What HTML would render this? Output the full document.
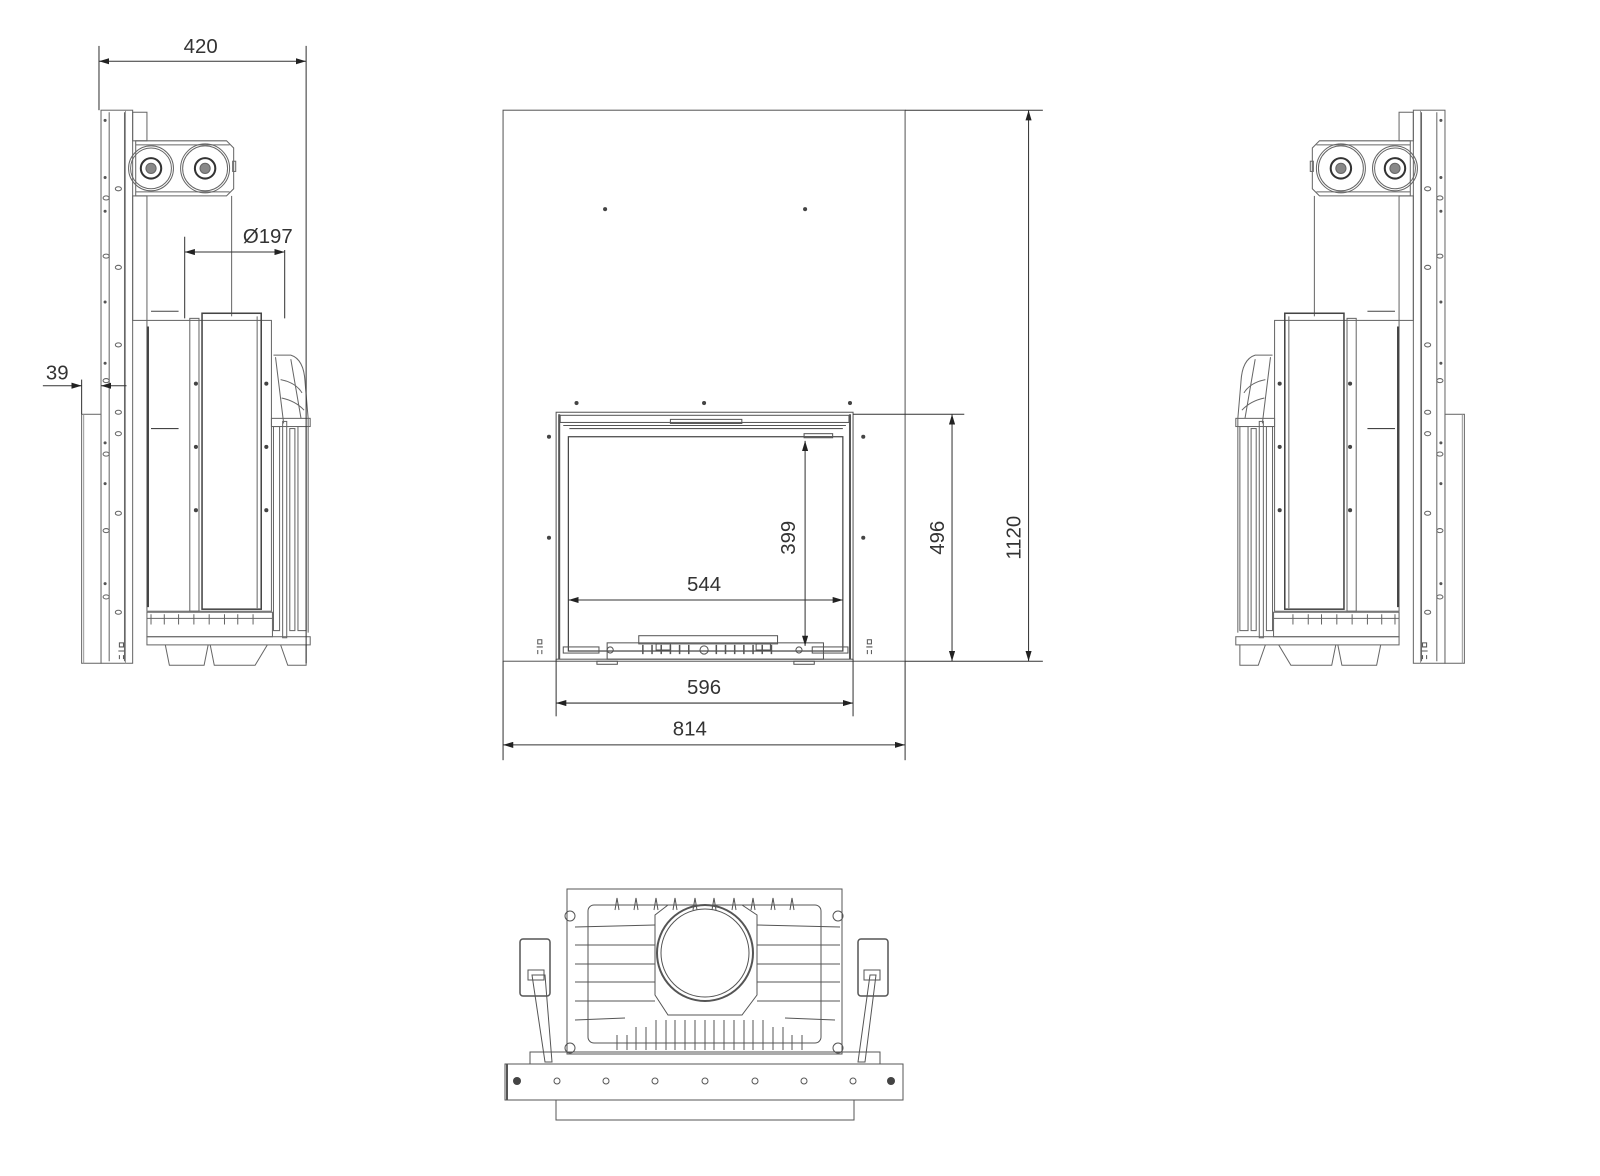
<!DOCTYPE html>
<html><head><meta charset="utf-8"><style>
html,body{margin:0;padding:0;background:#fff;}
svg{display:block}
text{font-family:"Liberation Sans",sans-serif;font-size:20px;fill:#333}
</style></head><body>
<svg width="1600" height="1176" viewBox="0 0 1600 1176" xmlns="http://www.w3.org/2000/svg">
<defs>
<marker id="a" viewBox="0 0 10 6" refX="10" refY="3" markerWidth="10" markerHeight="6" orient="auto-start-reverse" markerUnits="userSpaceOnUse"><path d="M0,0 L10,3 L0,6 z" fill="#222"/></marker>
<g id="side" fill="none" stroke="#666" stroke-width="1">
  <rect x="99" y="108" width="31" height="542"/>
  <line x1="107" y1="110" x2="107" y2="648"/>
  <line x1="122" y1="110" x2="122" y2="648"/>
  <line x1="123" y1="108" x2="123" y2="650" stroke="#999"/>
  <rect x="80" y="406" width="19" height="244"/>
  <line x1="82" y1="406" x2="82" y2="650" stroke="#999"/>
  <g fill="#fff" stroke="#666">
    <ellipse cx="116" cy="185" rx="3" ry="2"/><ellipse cx="116" cy="262" rx="3" ry="2"/>
    <ellipse cx="116" cy="338" rx="3" ry="2"/>
    <ellipse cx="116" cy="404" rx="3" ry="2"/><ellipse cx="116" cy="425" rx="3" ry="2"/>
    <ellipse cx="116" cy="503" rx="3" ry="2"/><ellipse cx="116" cy="600" rx="3" ry="2"/>
    <ellipse cx="104" cy="194" rx="3" ry="2"/><ellipse cx="104" cy="251" rx="3" ry="2"/>
    <ellipse cx="104" cy="373" rx="3" ry="2"/><ellipse cx="104" cy="445" rx="3" ry="2"/>
    <ellipse cx="104" cy="520" rx="3" ry="2"/><ellipse cx="104" cy="585" rx="3" ry="2"/>
  </g>
  <g fill="#555" stroke="none">
    <circle cx="103" cy="118" r="1.5"/><circle cx="103" cy="174" r="1.5"/><circle cx="103" cy="207" r="1.5"/>
    <circle cx="103" cy="296" r="1.5"/><circle cx="103" cy="356" r="1.5"/><circle cx="103" cy="434" r="1.5"/>
    <circle cx="103" cy="474" r="1.5"/><circle cx="103" cy="572" r="1.5"/>
  </g>
  <rect x="130" y="110" width="14" height="28"/>
  <path d="M133,138 H222 L229,145 V185 L222,192 H133 Z"/>
  <line x1="133" y1="142" x2="225" y2="142"/><line x1="133" y1="188" x2="225" y2="188"/>
  <circle cx="148" cy="165" r="22"/><circle cx="148" cy="165" r="20"/>
  <circle cx="148" cy="165" r="10" stroke="#333" stroke-width="2"/><circle cx="148" cy="165" r="5" fill="#888"/>
  <circle cx="201" cy="165" r="24"/><circle cx="201" cy="165" r="22"/>
  <circle cx="201" cy="165" r="10" stroke="#333" stroke-width="2"/><circle cx="201" cy="165" r="5" fill="#888"/>
  <rect x="228" y="158" width="3" height="10"/>
  <rect x="130" y="192" width="14" height="122"/>
  <line x1="227" y1="192" x2="227" y2="310"/>
  <rect x="144" y="314" width="122" height="285"/>
  <rect x="186" y="312" width="9" height="287"/>
  <rect x="198" y="307" width="58" height="290" stroke="#444" stroke-width="1.5"/>
  <line x1="252" y1="310" x2="252" y2="596"/>
  <line x1="148" y1="305" x2="175" y2="305" stroke="#444"/>
  <line x1="148" y1="420" x2="175" y2="420" stroke="#444"/>
  <line x1="145" y1="320" x2="145" y2="595" stroke="#444" stroke-width="2"/>
  <g fill="#444" stroke="none">
    <circle cx="192" cy="376" r="2"/><circle cx="192" cy="438" r="2"/><circle cx="192" cy="500" r="2"/>
    <circle cx="261" cy="376" r="2"/><circle cx="261" cy="438" r="2"/><circle cx="261" cy="500" r="2"/>
  </g>
  <path d="M268,348 H285 Q298,352 299,375 L302,410 V620"/>
  <path d="M270,350 L278,415 M285,352 L295,410 M275,372 Q290,375 296,385 M276,390 Q290,393 298,402"/>
  <rect x="266" y="410" width="38" height="8"/>
  <rect x="268" y="418" width="6" height="200"/><rect x="277" y="413" width="4" height="212"/>
  <rect x="284" y="420" width="5" height="198"/><rect x="292" y="418" width="8" height="200"/>
  <g stroke="#666">
    <rect x="144" y="600" width="123" height="24"/>
    <line x1="144" y1="606" x2="267" y2="606"/>
    <path d="M148,602 v10 M161,602 v10 M175,602 v10 M190,602 v10 M205,602 v10 M220,602 v10 M233,602 v10 M248,602 v10"/>
    <rect x="144" y="624" width="160" height="8"/>
    <path d="M162,632 L166,652 H200 L204,632 M206,632 L210,652 H250 L262,632"/>
    <path d="M275,632 L282,652 H300 V632"/>
  </g>
  <path d="M117,630 h4 v4 h-4 z M116,638 h6 M117,642 v4 M121,642 v4" stroke="#555"/>
</g>
</defs>

<g transform="scale(1.0204)">
<use href="#side"/>
</g>
<use href="#side" transform="translate(1546,0) scale(-1.0204,1.0204)"/>

<g transform="scale(1.0204)">
<g stroke="#333" stroke-width="1" fill="none">
  <line x1="97" y1="45" x2="97" y2="108"/>
  <line x1="300" y1="45" x2="300" y2="650"/>
  <line x1="97" y1="60" x2="300" y2="60" marker-start="url(#a)" marker-end="url(#a)"/>
  <line x1="181" y1="232" x2="181" y2="312"/>
  <line x1="279" y1="245" x2="279" y2="312"/>
  <line x1="181" y1="247" x2="279" y2="247" marker-start="url(#a)" marker-end="url(#a)"/>
  <line x1="80" y1="372" x2="80" y2="406"/>
  <line x1="42" y1="378" x2="80" y2="378" marker-end="url(#a)"/>
  <line x1="124" y1="378" x2="99" y2="378" marker-end="url(#a)"/>
</g>
<text x="180" y="52">420</text>
<text x="238" y="238">Ø197</text>
<text x="45" y="372">39</text>

<g stroke="#555" stroke-width="1" fill="none">
  <rect x="493" y="108" width="394" height="540"/>
  <rect x="545" y="404" width="291" height="242"/>
  <rect x="549" y="407" width="283" height="7"/>
  <line x1="552" y1="417" x2="829" y2="417"/>
  <line x1="558" y1="420" x2="826" y2="420"/>
  <rect x="557" y="428" width="269" height="210" stroke="#444" stroke-width="1.2"/>
  <line x1="548" y1="406" x2="548" y2="646" stroke-width="2"/>
  <line x1="833" y1="406" x2="833" y2="646" stroke-width="2"/>
  <rect x="657" y="411" width="70" height="4"/>
  <rect x="788" y="425" width="28" height="4"/>
  <rect x="595" y="630" width="212" height="16"/>
  <rect x="643" y="631" width="14" height="6"/><rect x="741" y="631" width="14" height="6"/>
  <rect x="626" y="623" width="136" height="8"/>
  <path d="M630,632 v9 M639,632 v9 M648,632 v9 M657,632 v9 M666,632 v9 M675,632 v9 M702,632 v9 M711,632 v9 M720,632 v9 M729,632 v9 M738,632 v9 M747,632 v9 M756,632 v9" stroke-width="1.5"/>
  <circle cx="690" cy="637" r="4"/>
  <circle cx="598" cy="637" r="3"/><circle cx="783" cy="637" r="3"/>
  <rect x="552" y="634" width="35" height="6"/><rect x="796" y="634" width="35" height="6"/>
  <rect x="585" y="648" width="20" height="3"/><rect x="778" y="648" width="20" height="3"/>
  <path d="M527,627 h4 v4 h-4 z M526,634 h6 M527,637 v4 M531,637 v4"/>
  <path d="M850,627 h4 v4 h-4 z M849,634 h6 M850,637 v4 M854,637 v4"/>
</g>
<g fill="#444">
  <circle cx="593" cy="205" r="2"/><circle cx="789" cy="205" r="2"/>
  <circle cx="565" cy="395" r="2"/><circle cx="690" cy="395" r="2"/><circle cx="833" cy="395" r="2"/>
  <circle cx="538" cy="428" r="2"/><circle cx="846" cy="428" r="2"/>
  <circle cx="538" cy="527" r="2"/><circle cx="846" cy="527" r="2"/>
</g>
<g stroke="#333" stroke-width="1" fill="none">
  <line x1="887" y1="108" x2="1022" y2="108"/>
  <line x1="887" y1="648" x2="1022" y2="648"/>
  <line x1="1008" y1="108" x2="1008" y2="648" marker-start="url(#a)" marker-end="url(#a)"/>
  <line x1="836" y1="406" x2="945" y2="406"/>
  <line x1="933" y1="406" x2="933" y2="648" marker-start="url(#a)" marker-end="url(#a)"/>
  <line x1="789" y1="432" x2="789" y2="633" marker-start="url(#a)" marker-end="url(#a)"/>
  <line x1="557" y1="588" x2="826" y2="588" marker-start="url(#a)" marker-end="url(#a)"/>
  <line x1="545" y1="646" x2="545" y2="702"/>
  <line x1="836" y1="646" x2="836" y2="702"/>
  <line x1="545" y1="689" x2="836" y2="689" marker-start="url(#a)" marker-end="url(#a)"/>
  <line x1="493" y1="648" x2="493" y2="745"/>
  <line x1="887" y1="648" x2="887" y2="745"/>
  <line x1="493" y1="730" x2="887" y2="730" marker-start="url(#a)" marker-end="url(#a)"/>
</g>
<text x="690" y="579" text-anchor="middle">544</text>
<text x="690" y="680" text-anchor="middle">596</text>
<text x="676" y="721" text-anchor="middle">814</text>
<text transform="translate(779,527) rotate(-90)" text-anchor="middle">399</text>
<text transform="translate(925,527) rotate(-90)" text-anchor="middle">496</text>
<text transform="translate(1000,527) rotate(-90)" text-anchor="middle">1120</text>
</g>

<g stroke="#555" stroke-width="1" fill="none">
  <rect x="567" y="889" width="275" height="165"/>
  <rect x="588" y="905" width="233" height="138" rx="6"/>
  <circle cx="705" cy="953" r="48" stroke-width="2"/>
  <circle cx="705" cy="953" r="44"/>
  <path d="M655,915 L668,905 H742 L757,915 V995 L742,1015 H668 L655,995 Z"/>
  <path d="M615,910 l2,-12 l2,12 M634,910 l2,-12 l2,12 M654,910 l2,-12 l2,12 M673,910 l2,-12 l2,12 M693,910 l2,-12 l2,12 M712,910 l2,-12 l2,12 M732,910 l2,-12 l2,12 M751,910 l2,-12 l2,12 M771,910 l2,-12 l2,12 M790,910 l2,-12 l2,12"/>
  <path d="M575,927 L655,925 M575,945 L655,945 M575,964 L655,964 M575,982 L655,982 M575,1001 L655,1001 M575,1020 L625,1018"/>
  <path d="M757,925 L840,927 M757,945 L840,945 M757,964 L840,964 M757,982 L840,982 M757,1001 L840,1001 M785,1018 L835,1020"/>
  <path d="M617,1050 V1035 M636,1050 V1027 M656,1050 V1020 M675,1050 V1020 M695,1050 V1020 M714,1050 V1020 M734,1050 V1020 M753,1050 V1020 M773,1050 V1027 M792,1050 V1035"/>
  <path d="M627,1050 V1035 M646,1050 V1027 M666,1050 V1020 M685,1050 V1020 M705,1050 V1020 M724,1050 V1020 M744,1050 V1020 M763,1050 V1020 M783,1050 V1027 M802,1050 V1035"/>
  <circle cx="570" cy="916" r="5"/><circle cx="838" cy="916" r="5"/>
  <circle cx="570" cy="1048" r="5"/><circle cx="838" cy="1048" r="5"/>
  <rect x="520" y="939" width="30" height="57" rx="3" stroke-width="1.5"/>
  <rect x="858" y="939" width="30" height="57" rx="3" stroke-width="1.5"/>
  <path d="M532,975 L545,1062 L552,1062 L545,975 Z"/>
  <path d="M870,975 L858,1062 L865,1062 L876,975 Z"/>
  <rect x="528" y="970" width="16" height="10"/><rect x="864" y="970" width="16" height="10"/>
  <rect x="530" y="1052" width="350" height="12"/>
  <rect x="505" y="1064" width="398" height="36"/>
  <line x1="507" y1="1064" x2="507" y2="1100" stroke-width="2"/>
  <rect x="556" y="1100" width="298" height="20"/>
  <circle cx="606" cy="1081" r="3"/><circle cx="655" cy="1081" r="3"/><circle cx="705" cy="1081" r="3"/>
  <circle cx="755" cy="1081" r="3"/><circle cx="804" cy="1081" r="3"/>
  <circle cx="557" cy="1081" r="3"/><circle cx="853" cy="1081" r="3"/>
</g>
<g fill="#444">
  <circle cx="517" cy="1081" r="4"/><circle cx="891" cy="1081" r="4"/>
</g>
</svg>
</body></html>
